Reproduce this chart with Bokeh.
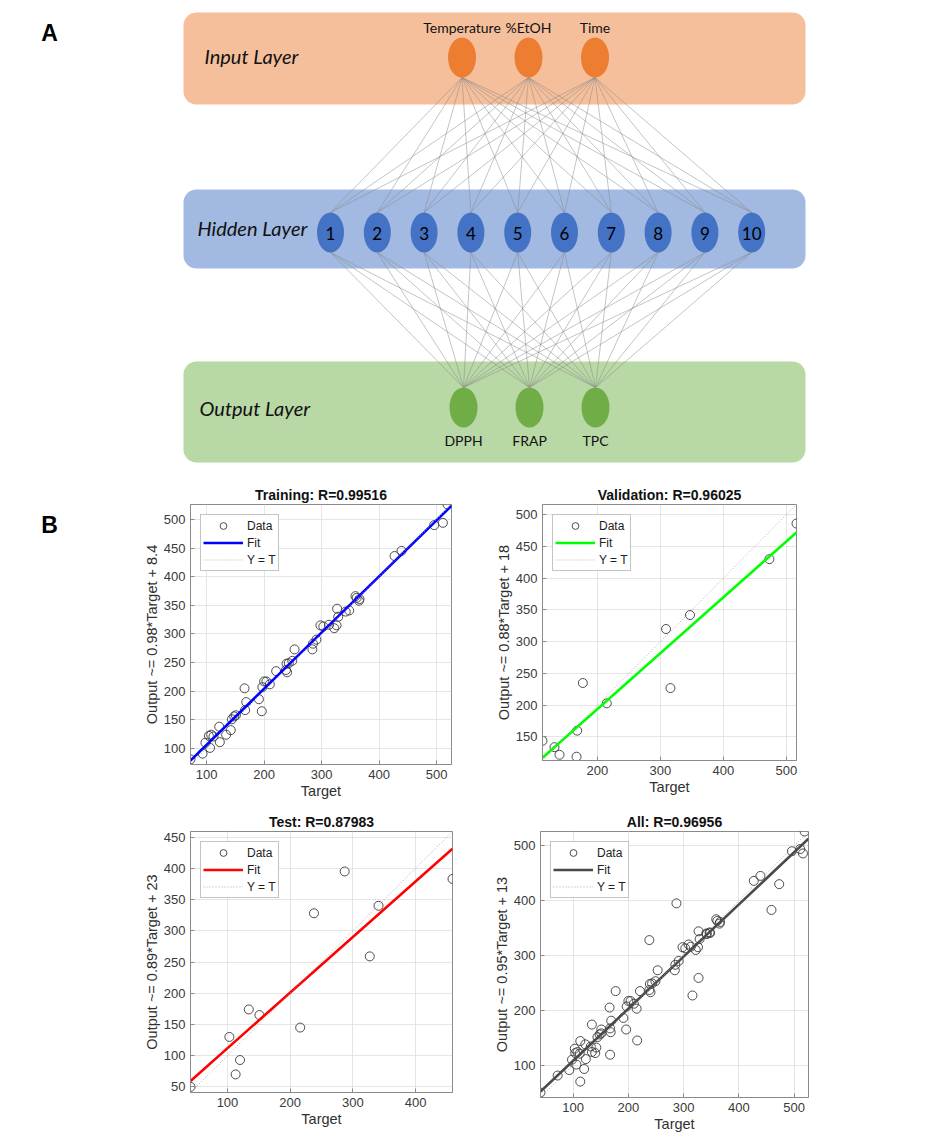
import numpy as np
from bokeh.plotting import figure
from bokeh.models import Range1d, FixedTicker, Legend, LegendItem
from bokeh.layouts import column, row
from bokeh.embed import file_html
from bokeh.resources import INLINE
from bokeh.core.properties import value

# ---------------- data: panel A ----------------
input_labels = ["Temperature", "%EtOH", "Time"]
hidden_labels = ["1", "2", "3", "4", "5", "6", "7", "8", "9", "10"]
output_labels = ["DPPH", "FRAP", "TPC"]
layer_names = ["Input Layer", "Hidden Layer", "Output Layer"]
panel_letters = ["A", "B"]

# ---------------- data: panel B ----------------
train_target = [72, 93, 98, 106, 104, 108, 112, 122, 123, 134, 142, 144, 148, 151, 166, 167, 169,
                191, 196, 197, 200, 204, 210, 221, 240, 238, 239, 243, 249, 253, 284, 285, 291,
                298, 303, 313, 322, 326, 327, 329, 342, 348, 359, 361, 365, 366, 427, 439, 496, 511, 519]
train_output = [81, 91, 110, 101, 122, 124, 121, 138, 111, 124, 132, 151, 156, 158, 205, 167, 181,
                186, 165, 207, 217, 217, 212, 235, 233, 237, 248, 249, 253, 273, 273, 283, 290,
                315, 313, 316, 310, 315, 344, 330, 339, 341, 366, 363, 358, 361, 436, 445, 490, 494, 526]
val_target = [113, 132, 140, 167, 168, 177, 215, 309, 316, 347, 473, 516]
val_output = [144, 134, 122, 119, 160, 235, 203, 320, 227, 342, 430, 486]
test_target = [41, 103, 113, 120, 134, 151, 216, 238, 287, 327, 341, 459]
test_output = [50, 130, 70, 93, 174, 165, 145, 328, 395, 259, 340, 383]
all_target = train_target + val_target + test_target
all_output = train_output + val_output + test_output

titles = ["Training: R=0.99516", "Validation: R=0.96025", "Test: R=0.87983", "All: R=0.96956"]
ylabels = ["Output ~= 0.98*Target + 8.4", "Output ~= 0.88*Target + 18",
           "Output ~= 0.89*Target + 23", "Output ~= 0.95*Target + 13"]
fit_slopes = [0.98, 0.88, 0.89, 0.95]
fit_intercepts = [8.4, 18, 23, 13]
legend_labels = ["Data", "Fit", "Y = T"]

train_xticks = [100, 200, 300, 400, 500]
train_yticks = [100, 150, 200, 250, 300, 350, 400, 450, 500]
val_xticks = [200, 300, 400, 500]
val_yticks = [150, 200, 250, 300, 350, 400, 450, 500]
test_xticks = [100, 200, 300, 400]
test_yticks = [50, 100, 150, 200, 250, 300, 350, 400, 450]
all_xticks = [100, 200, 300, 400, 500]
all_yticks = [100, 200, 300, 400, 500]

FONT_A = "Lato"
FONT_B = "Liberation Sans"

# ---------------- panel A: network diagram ----------------
pa = figure(width=927, height=478, x_range=Range1d(0, 927), y_range=Range1d(478, 0),
            x_axis_type=None, y_axis_type=None, output_backend="svg",
            toolbar_location=None, min_border=0)
pa.outline_line_color = None
pa.grid.visible = False


def rounded_box(x0, x1, y0, y1, r, n=10):
    xs, ys = [], []
    corners = [(x1 - r, y0 + r, -90, 0), (x1 - r, y1 - r, 0, 90),
               (x0 + r, y1 - r, 90, 180), (x0 + r, y0 + r, 180, 270)]
    for cx, cy, a0, a1 in corners:
        for a in np.linspace(np.radians(a0), np.radians(a1), n):
            xs.append(cx + r * np.cos(a))
            ys.append(cy + r * np.sin(a))
    return xs, ys


box_x0, box_x1 = 183, 805
boxes = [(12, 104, "#F5BF9C"), (189, 268, "#A2B9E1"), (361, 462, "#B8D8A5")]
for y0, y1, col in boxes:
    bx, by = rounded_box(box_x0, box_x1, y0, y1, 13)
    pa.patch(bx, by, fill_color=col, line_color=None)

in_y, hid_y, out_y = 57, 232, 407
node_h = 40
in_x = [528 + (i - 1) * 66.5 for i in range(len(input_labels))]
hid_x = [330 + j * 46.8 for j in range(len(hidden_labels))]
out_x = [529 + (k - 1) * 66 for k in range(len(output_labels))]

lx, ly = [], []
for xi in in_x:
    for xh in hid_x:
        lx.append([xi, xh]); ly.append([in_y + node_h / 2, hid_y - node_h / 2])
for xh in hid_x:
    for xo in out_x:
        lx.append([xh, xo]); ly.append([hid_y + node_h / 2, out_y - node_h / 2])
pa.multi_line(lx, ly, line_color="#8a8a8a", line_width=0.6, line_alpha=0.85)

pa.ellipse(x=in_x, y=[in_y] * len(in_x), width=28, height=node_h,
           fill_color="#ED7D31", line_color=None)
pa.ellipse(x=hid_x, y=[hid_y] * len(hid_x), width=27, height=node_h,
           fill_color="#4472C4", line_color=None)
pa.ellipse(x=out_x, y=[out_y] * len(out_x), width=28, height=node_h,
           fill_color="#70AD47", line_color=None)

pa.text(x=in_x, y=[27] * len(in_x), text=input_labels, text_font=value(FONT_A),
        text_font_size="14px", text_align="center", text_baseline="middle", text_color="#111111")
pa.text(x=hid_x, y=[hid_y + 1] * len(hid_x), text=hidden_labels, text_font=value(FONT_A),
        text_font_size="17px", text_align="center", text_baseline="middle", text_color="#000000")
pa.text(x=out_x, y=[440] * len(out_x), text=output_labels, text_font=value(FONT_A),
        text_font_size="14px", text_align="center", text_baseline="middle", text_color="#111111")
pa.text(x=[204, 197, 199], y=[in_y - 2, hid_y - 5, out_y], text=layer_names, text_font=value(FONT_A),
        text_font_size="20px", text_font_style="italic", text_align="left",
        text_baseline="middle", text_color="#111111")
pa.text(x=[49], y=[32], text=[panel_letters[0]], text_font=value(FONT_B), text_font_size="23px",
        text_font_style="bold", text_align="center", text_baseline="middle", text_color="#000000")

# strip holding the "B" letter, left of the training plot
pb = figure(width=100, height=328, x_range=Range1d(0, 100), y_range=Range1d(328, 0),
            x_axis_type=None, y_axis_type=None, output_backend="svg",
            toolbar_location=None, min_border=0)
pb.outline_line_color = None
pb.grid.visible = False
pb.text(x=[49], y=[27], text=[panel_letters[1]], text_font=value(FONT_B), text_font_size="23px",
        text_font_style="bold", text_align="center", text_baseline="middle", text_color="#000000")


# ---------------- panel B: regression plots ----------------
def reg_plot(tx, oy, title, ylabel, slope, intercept, color, xticks, yticks,
             fw, fh, bl, br, bt, bb):
    lo = min(min(tx), min(oy))
    hi = max(max(tx), max(oy))
    p = figure(frame_width=fw, frame_height=fh, x_range=Range1d(lo, hi), y_range=Range1d(lo, hi),
               output_backend="svg", toolbar_location=None,
               min_border_left=bl, min_border_right=br, min_border_top=bt, min_border_bottom=bb)
    p.title.text = title
    p.title.align = "center"
    p.title.text_font = FONT_B
    p.title.text_font_size = "14px"
    p.title.text_font_style = "bold"
    p.title.text_color = "#111111"
    p.title.standoff = 3
    p.outline_line_color = "#8a8a8a"
    p.outline_line_width = 1
    for ax, ticks, lab in ((p.xaxis, xticks, "Target"), (p.yaxis, yticks, ylabel)):
        ax.ticker = FixedTicker(ticks=ticks)
        ax.axis_label = lab
        ax.axis_label_text_font = FONT_B
        ax.axis_label_text_font_size = "14.5px"
        ax.axis_label_text_font_style = "normal"
        ax.axis_label_text_color = "#303030"
        ax.axis_label_standoff = 1
        ax.major_label_text_font = FONT_B
        ax.major_label_text_font_size = "13px"
        ax.major_label_text_color = "#3a3a3a"
        ax.major_label_standoff = 5
        ax.major_tick_in = 4
        ax.major_tick_out = 0
        ax.minor_tick_line_color = None
        ax.axis_line_color = "#8a8a8a"
        ax.major_tick_line_color = "#8a8a8a"
    p.grid.grid_line_color = "#dedede"
    p.grid.grid_line_width = 0.8

    r_data = p.scatter(tx, oy, marker="circle", size=9, fill_color=None,
                       line_color="#3a3a3a", line_width=0.9)
    r_fit = p.line([lo, hi], [slope * lo + intercept, slope * hi + intercept],
                   line_color=color, line_width=2.6)
    r_yt = p.line([lo, hi], [lo, hi], line_color="#9a9a9a", line_width=0.8, line_dash="1 2")
    leg = Legend(items=[LegendItem(label=legend_labels[0], renderers=[r_data]),
                        LegendItem(label=legend_labels[1], renderers=[r_fit]),
                        LegendItem(label=legend_labels[2], renderers=[r_yt])],
                 location="top_left", margin=10, padding=2, spacing=0,
                 glyph_width=40, glyph_height=17, label_height=14, label_standoff=4,
                 label_text_font=FONT_B, label_text_font_size="12px", label_text_color="#222222",
                 border_line_color="#8a8a8a", border_line_width=0.8,
                 background_fill_color="white", background_fill_alpha=1.0)
    p.add_layout(leg)
    return p


p_train = reg_plot(train_target, train_output, titles[0], ylabels[0], fit_slopes[0],
                   fit_intercepts[0], "#0000FF", train_xticks, train_yticks,
                   261, 260, 90, 29, 26, 42)
p_val = reg_plot(val_target, val_output, titles[1], ylabels[1], fit_slopes[1],
                 fit_intercepts[1], "#00FF00", val_xticks, val_yticks,
                 254, 256, 62, 131, 25, 47)
p_test = reg_plot(test_target, test_output, titles[2], ylabels[2], fit_slopes[2],
                  fit_intercepts[2], "#FF0000", test_xticks, test_yticks,
                  262, 261, 190, 28, 25, 40)
p_all = reg_plot(all_target, all_output, titles[3], ylabels[3], fit_slopes[3],
                 fit_intercepts[3], "#4a4a4a", all_xticks, all_yticks,
                 268, 266, 60, 119, 20, 40)

layout = column(pa, row(pb, p_train, p_val), row(p_test, p_all))
open("out.html", "w").write(file_html(layout, INLINE))
